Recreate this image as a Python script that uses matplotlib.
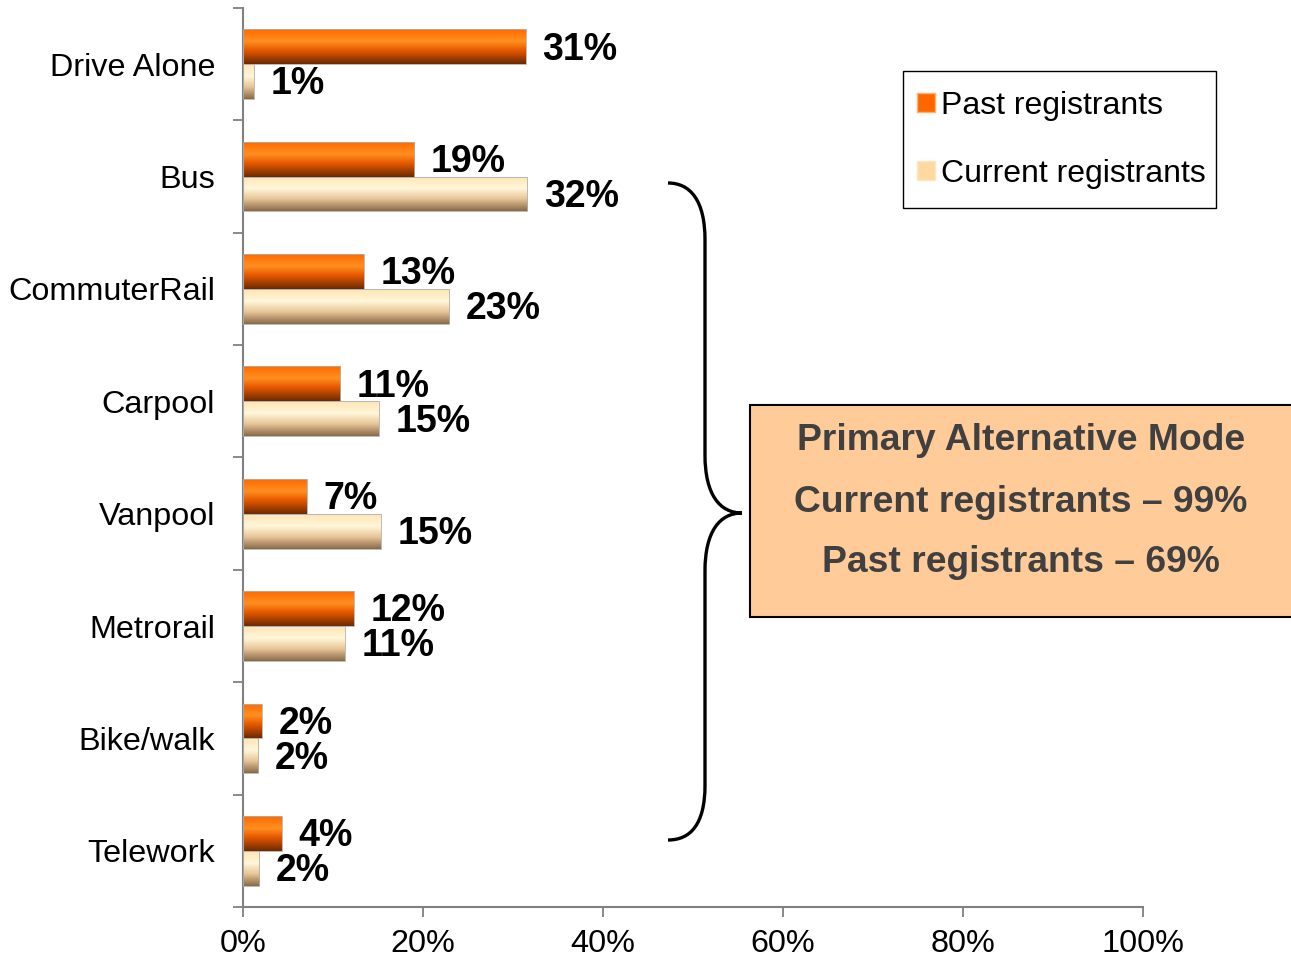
import numpy as np
import matplotlib
matplotlib.use("Agg")
import matplotlib.pyplot as plt
from matplotlib.colors import LinearSegmentedColormap
from matplotlib.patches import Patch, Rectangle, PathPatch
from matplotlib.path import Path

plt.rcParams['font.family'] = ['Liberation Sans', 'DejaVu Sans']

modes = ["Drive Alone", "Bus", "CommuterRail", "Carpool", "Vanpool", "Metrorail", "Bike/walk", "Telework"]
past = [31.4, 19.0, 13.4, 10.8, 7.1, 12.3, 2.1, 4.3]
current = [1.2, 31.6, 22.9, 15.1, 15.3, 11.3, 1.7, 1.8]
x_ticks = [0, 20, 40, 60, 80, 100]
box_lines = ["Primary Alternative Mode", "Current registrants \u2013 99%", "Past registrants \u2013 69%"]

W, H = 1291, 958
fig = plt.figure(figsize=(W / 100, H / 100), dpi=100)
ax = fig.add_axes([243 / W, 1 - 907 / H, 900 / W, 899 / H])

# vertical gradients like the old office charts
cmap_past = LinearSegmentedColormap.from_list(
    "past", [(0, "#ff6a00"), (0.35, "#ff8f20"), (0.6, "#e85a00"), (1, "#6e2a00")])
cmap_cur = LinearSegmentedColormap.from_list(
    "cur", [(0, "#ffe6b8"), (0.35, "#fff6d8"), (0.65, "#e8c698"), (1, "#8c6a48")])

h = 0.31
y = np.arange(len(modes))
grad = np.linspace(0, 1, 64).reshape(-1, 1)


def gradient_bars(vals, offs, cmap):
    bars = ax.barh(y + offs, vals, height=h, color="none", edgecolor="#b0b0b0", linewidth=0.6, zorder=3)
    for b in bars:
        x0, y0 = b.get_x(), b.get_y()
        im = ax.imshow(grad, cmap=cmap, aspect="auto", origin="upper",
                       extent=(x0, x0 + b.get_width(), y0 + b.get_height(), y0), zorder=2)
        im.set_clip_path(b)
    return bars


gradient_bars(past, -h / 2, cmap_past)
gradient_bars(current, h / 2, cmap_cur)

for i in range(len(modes)):
    ax.annotate(f"{round(past[i])}%", (past[i], i - h / 2), xytext=(12, -2), textcoords="offset points",
                va="center", ha="left", fontsize=27, fontweight="bold")
    ax.annotate(f"{round(current[i])}%", (current[i], i + h / 2), xytext=(12, -2), textcoords="offset points",
                va="center", ha="left", fontsize=27, fontweight="bold")

ax.set_xlim(0, 100)
ax.set_ylim(len(modes) - 0.5, -0.5)
ax.set_xticks(x_ticks)
ax.set_xticklabels([f"{t}%" for t in x_ticks])
ax.set_yticks(y)
ax.set_yticklabels(modes)
ax.set_yticks(np.arange(len(modes) + 1) - 0.5, minor=True)
ax.tick_params(axis="y", which="major", length=0, pad=20, labelsize=23.3)
ax.tick_params(axis="y", which="minor", length=7, width=1.3, color="#808080")
ax.tick_params(axis="x", length=7, width=1.3, color="#808080", pad=9, labelsize=23.3)
for s in ["top", "right"]:
    ax.spines[s].set_visible(False)
for s in ["left", "bottom"]:
    ax.spines[s].set_color("#808080")
    ax.spines[s].set_linewidth(1.5)


def fp(px, py):
    return (px / W, 1 - py / H)


# legend: frame drawn separately so the padding can differ per side
lx, ly = fp(903, 208)
fig.patches.append(Rectangle((lx, ly), (1216 - 903) / W, (208 - 71) / H, transform=fig.transFigure,
                             facecolor="white", edgecolor="black", linewidth=1.0))
handles = [Patch(facecolor="#ff6600", edgecolor="#ffb070"), Patch(facecolor="#ffd9a0", edgecolor="#ffe6c0")]
leg = fig.legend(handles, ["Past registrants", "Current registrants"], loc="center left",
                 bbox_to_anchor=fp(917, 140), fontsize=23, frameon=False,
                 handlelength=0.55, handleheight=0.55, handletextpad=0.2,
                 labelspacing=1.2, borderpad=0, borderaxespad=0)

# brace
verts = [fp(668, 183), fp(690, 183), fp(705, 200), fp(705, 240),
         fp(705, 455),
         fp(705, 495), fp(720, 513), fp(742, 513),
         fp(720, 513), fp(705, 531), fp(705, 571),
         fp(705, 785),
         fp(705, 825), fp(690, 840), fp(668, 840)]
codes = [Path.MOVETO, Path.CURVE4, Path.CURVE4, Path.CURVE4, Path.LINETO,
         Path.CURVE4, Path.CURVE4, Path.CURVE4, Path.CURVE4, Path.CURVE4, Path.CURVE4,
         Path.LINETO, Path.CURVE4, Path.CURVE4, Path.CURVE4]
fig.patches.append(PathPatch(Path(verts, codes), transform=fig.transFigure, facecolor="none",
                             edgecolor="black", linewidth=2.4))

# summary box
bx, by = fp(750, 617)
fig.patches.append(Rectangle((bx, by), (1300 - 750) / W, (617 - 405) / H, transform=fig.transFigure,
                             facecolor="#ffcc99", edgecolor="black", linewidth=1.5))
for k, line in enumerate(box_lines):
    fig.text(1021 / W, 1 - (441 + 61 * k) / H, line, ha="center", va="center",
             fontsize=26.8, fontweight="bold", color="#404040")

fig.savefig("out.png", dpi=100)
